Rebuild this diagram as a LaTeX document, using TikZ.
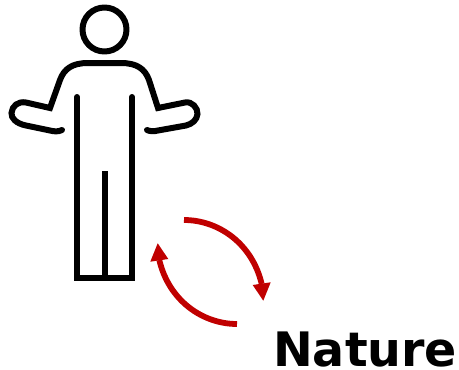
\documentclass[tikz,border=0pt]{standalone}
\usepackage{fontspec}
\setmainfont{DejaVu Sans}
\definecolor{natred}{RGB}{192,0,0}
\tikzset{
  figure/.style={draw=black,line width=6pt,line join=round},
  cycleline/.style={draw=natred,line width=5.8pt},
  cyclehead/.style={fill=natred,draw=none}
}
\begin{document}
\begin{tikzpicture}[x=1pt,y=-1pt]
\useasboundingbox (0,0) rectangle (459,370);
\coordinate (headc) at (104.5,29.5);
\draw[figure] (headc) circle[radius=22];
\draw[figure,line cap=round,line join=miter]
  (62,130) .. controls (58,132) and (54,131.5) .. (50,130.5)
  -- (26,125.5) .. controls (16,123.5) and (11,118) .. (11.5,113)
  .. controls (12,106) and (18,101) .. (26,102.5)
  -- (50,108) -- (60,80)
  .. controls (64,69) and (72,63) .. (88,63)
  -- (121,63)
  .. controls (137,63) and (145,69) .. (149,80)
  -- (158,108) -- (185,102.5)
  .. controls (192,101) and (198,108) .. (197.5,114)
  .. controls (197,120) and (192,124) .. (186,125.5)
  -- (158,130.5) .. controls (154,131.5) and (150,131.5) .. (147,130);
\draw[figure,line cap=butt,line join=miter]
  (77,98) -- (77,278) -- (132,278) -- (132,98);
\draw[figure,line cap=round] (77,97) -- (77,100);
\draw[figure,line cap=round] (132,97) -- (132,100);
\draw[figure] (104.5,171) -- (104.5,278);
\draw[cycleline] (184,220) .. controls (218,220) and (252,243) .. (261.7,284);
\fill[cyclehead] (263.3,300.7) -- (252.7,285) -- (270.7,282.3) -- cycle;
\draw[cycleline] (237,324) .. controls (203,324) and (169,301) .. (159.3,260);
\fill[cyclehead] (157.7,243.3) -- (168.3,259) -- (150.3,261.7) -- cycle;
\node[inner sep=0pt,anchor=base west,font=\fontsize{47.5}{52}\bfseries] (label) at (273,366.5) {Nature};
\end{tikzpicture}
\end{document}
